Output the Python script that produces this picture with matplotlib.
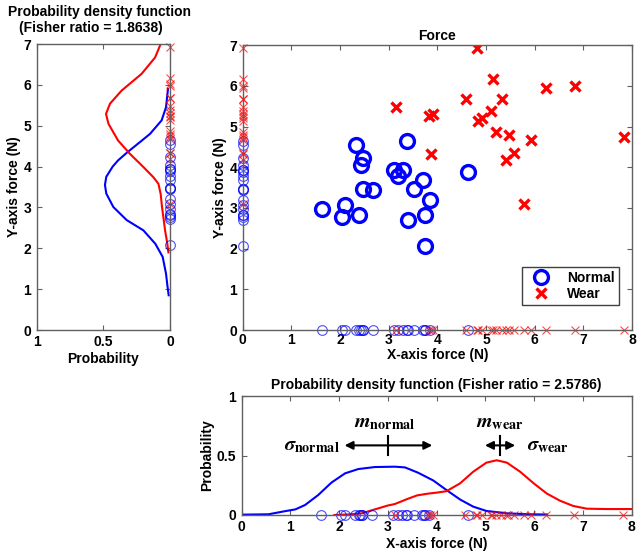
import numpy as np
import matplotlib
matplotlib.use("Agg")
import matplotlib.pyplot as plt

plt.rcParams['font.family'] = ['Liberation Sans', 'DejaVu Sans']
plt.rcParams['font.weight'] = 'bold'
plt.rcParams['axes.labelweight'] = 'bold'
plt.rcParams['axes.titleweight'] = 'bold'
plt.rcParams['font.size'] = 10

FS = 10

# ---- force measurements (N) ----
normal_x = [1.63, 2.04, 2.11, 2.33, 2.47, 2.43, 2.40, 2.47, 2.67, 3.10,
            3.20, 3.29, 3.37, 3.40, 3.53, 3.70, 3.74, 3.85, 3.75, 4.64]
normal_y = [2.97, 2.77, 3.08, 4.56, 4.23, 4.05, 2.82, 3.47, 3.44, 3.93,
            3.78, 3.93, 4.64, 2.71, 3.47, 3.68, 2.83, 3.20, 2.07, 3.89]
wear_x = [3.15, 3.82, 3.92, 3.87, 4.59, 4.81, 4.83, 4.92, 5.11, 5.14,
          5.21, 5.32, 5.42, 5.47, 5.58, 5.79, 5.93, 6.24, 6.82, 7.83]
wear_y = [5.49, 5.25, 5.30, 4.33, 5.69, 6.93, 5.14, 5.22, 5.38, 6.16,
          4.87, 5.67, 4.19, 4.79, 4.34, 3.09, 4.68, 5.96, 6.01, 4.75]

# ---- estimated densities along the Y axis ----
pdfy_normal_y = [0.85, 1.1, 1.38, 1.79, 2.11, 2.44, 2.69, 3.01, 3.34, 3.55,
                 3.75, 4.0, 4.15, 4.35, 4.64, 4.80, 5.13, 5.45, 5.9]
pdfy_normal_p = [0.01, 0.02, 0.03, 0.055, 0.11, 0.20, 0.325, 0.425, 0.478, 0.488,
                 0.478, 0.43, 0.39, 0.32, 0.21, 0.15, 0.063, 0.03, 0.015]
pdfy_wear_y = [1.9, 2.11, 2.44, 2.77, 3.01, 3.33, 3.58, 3.74, 3.99, 4.31,
               4.64, 5.05, 5.29, 5.54, 5.86, 6.27, 6.67, 7.0]
pdfy_wear_p = [0.012, 0.02, 0.037, 0.05, 0.06, 0.07, 0.087, 0.125, 0.20, 0.30,
               0.39, 0.462, 0.48, 0.45, 0.363, 0.213, 0.112, 0.07]

# ---- estimated densities along the X axis ----
pdfx_normal_x = [0, 0.55, 0.9, 1.1, 1.3, 1.57, 1.84, 2.12, 2.39, 2.73, 3.14,
                 3.35, 3.62, 3.93, 4.2, 4.48, 4.75, 5.02, 5.44, 5.9, 6.26]
pdfx_normal_p = [0.003, 0.006, 0.033, 0.047, 0.084, 0.168, 0.272, 0.35, 0.386, 0.403, 0.406,
                 0.40, 0.355, 0.29, 0.21, 0.13, 0.07, 0.034, 0.014, 0.006, 0.004]
pdfx_wear_x = [1.9, 2.2, 2.46, 2.73, 3.0, 3.14, 3.4, 3.6, 3.83, 4.0, 4.2, 4.48,
               4.75, 5.02, 5.23, 5.44, 5.71, 5.99, 6.26, 6.53, 6.8, 7.08, 7.49, 8.0]
pdfx_wear_p = [0.0, 0.005, 0.014, 0.047, 0.08, 0.092, 0.135, 0.165, 0.18, 0.188, 0.2, 0.266,
               0.364, 0.44, 0.46, 0.44, 0.364, 0.266, 0.18, 0.12, 0.076, 0.053, 0.05, 0.05]

# mean / spread markers on the X-axis density panel
ann_mean = [3.01, 5.30]
ann_half = [0.90, 0.31]

fisher_x = 2.5786
fisher_y = 1.8638

BLUE = (0, 0, 1)
RED = (1, 0, 0)
SPINE = '#606060'

W, H = 637, 557
fig = plt.figure(figsize=(W / 100, H / 100), dpi=100)


def frac(l, t, r, b):
    return [l / W, 1 - b / H, (r - l) / W, (b - t) / H]


def style(ax, xpad=3.5):
    for s in ax.spines.values():
        s.set_color(SPINE)
        s.set_linewidth(1.0)
    ax.tick_params(direction='in', top=True, right=True, length=3.5,
                   width=0.8, color=SPINE, labelsize=FS)
    ax.tick_params(axis='x', pad=xpad)
    ax.tick_params(axis='y', pad=4)
    for lab in ax.get_xticklabels() + ax.get_yticklabels():
        lab.set_fontweight('bold')


ax_main = fig.add_axes(frac(242.7, 45.3, 632, 330))
ax_left = fig.add_axes(frac(36.7, 44.0, 170, 330))
ax_bot = fig.add_axes(frac(241.7, 396, 631.7, 515))

proj_o = dict(ls='none', marker='o', mfc='none', mec=BLUE, ms=7, mew=0.8,
              alpha=0.7, clip_on=False)
proj_x = dict(ls='none', marker='x', color=RED, ms=6, mew=0.8,
              alpha=0.7, clip_on=False)

# ---- main scatter ----
ax_main.plot(normal_x, np.zeros(len(normal_x)), **proj_o)
ax_main.plot(wear_x, np.zeros(len(wear_x)), **proj_x)
ax_main.plot(np.zeros(len(normal_y)), normal_y, **proj_o)
ax_main.plot(np.zeros(len(wear_y)), wear_y, **proj_x)
h1, = ax_main.plot(normal_x, normal_y, ls='none', marker='o', mfc='none',
                   mec=BLUE, ms=10, mew=2.4, label='Normal')
h2, = ax_main.plot(wear_x, wear_y, ls='none', marker='x', color=RED,
                   ms=7.5, mew=2.4, label='Wear')
ax_main.set_xlim(0, 8)
ax_main.set_ylim(0, 7)
ax_main.set_xticks(range(0, 9))
ax_main.set_yticks(range(0, 8))
ax_main.set_title('Force', fontsize=FS, fontweight='bold', pad=4)
ax_main.set_xlabel('X-axis force (N)', labelpad=0.5)
ax_main.set_ylabel('Y-axis force (N)', labelpad=2)
leg = ax_main.legend(handles=[h1, h2], loc='lower right',
                     bbox_to_anchor=(0.967, 0.088), borderaxespad=0,
                     fancybox=False, edgecolor='#404040', framealpha=1,
                     prop={'weight': 'bold', 'size': FS}, handlelength=2.2,
                     borderpad=0.3, labelspacing=0.15, handletextpad=0.8)
leg.get_frame().set_linewidth(1.0)
style(ax_main, xpad=2.5)

# ---- Y-axis density ----
ax_left.plot(pdfy_normal_p, pdfy_normal_y, color=BLUE, lw=1.5)
ax_left.plot(pdfy_wear_p, pdfy_wear_y, color=RED, lw=1.5)
ax_left.plot(np.zeros(len(normal_y)), normal_y, **proj_o)
ax_left.plot(np.zeros(len(wear_y)), wear_y, **proj_x)
ax_left.set_xlim(1, 0)
ax_left.set_ylim(0, 7)
ax_left.set_xticks([1, 0.5, 0])
ax_left.set_xticklabels(['1', '0.5', '0'])
ax_left.set_yticks(range(0, 8))
ax_left.set_xlabel('Probability', labelpad=2)
ax_left.set_ylabel('Y-axis force (N)', labelpad=2)
style(ax_left)
fig.text(100 / W, 1 - 12 / H, 'Probability density function',
         ha='center', va='center', fontsize=FS, fontweight='bold')
fig.text(90.5 / W, 1 - 28 / H, '(Fisher ratio = %.4f)' % fisher_y,
         ha='center', va='center', fontsize=FS, fontweight='bold')

# ---- X-axis density ----
ax_bot.plot(pdfx_normal_x, pdfx_normal_p, color=BLUE, lw=1.5)
ax_bot.plot(pdfx_wear_x, pdfx_wear_p, color=RED, lw=1.5)
ax_bot.plot(normal_x, np.zeros(len(normal_x)), **proj_o)
ax_bot.plot(wear_x, np.zeros(len(wear_x)), **proj_x)
ax_bot.set_xlim(0, 8)
ax_bot.set_ylim(0, 1)
ax_bot.set_xticks(range(0, 9))
ax_bot.set_yticks([0, 0.5, 1])
ax_bot.set_yticklabels(['0', '0.5', '1'])
ax_bot.set_title('Probability density function (Fisher ratio = %.4f)' % fisher_x,
                 fontsize=FS, fontweight='bold', pad=5)
ax_bot.set_xlabel('X-axis force (N)', labelpad=2)
ax_bot.set_ylabel('Probability', labelpad=2)
style(ax_bot)

arrow_y = 0.585
for m, h in zip(ann_mean, ann_half):
    ax_bot.annotate('', xy=(m - h, arrow_y), xytext=(m + h, arrow_y),
                    arrowprops=dict(arrowstyle='<|-|>', color='k', lw=1.5,
                                    mutation_scale=12, shrinkA=0, shrinkB=0))
    ax_bot.plot([m, m], [arrow_y - 0.08, arrow_y + 0.075], color='k', lw=1.5)

mt = dict(math_fontfamily='stix', fontsize=14.5, color='k', fontweight='normal')
ax_bot.text(ann_mean[0] - 0.07, 0.78, r'$m_{\mathrm{normal}}$', ha='center', va='center', **mt)
ax_bot.text(ann_mean[0] - ann_half[0] - 0.09, arrow_y, r'$\sigma_{\mathrm{normal}}$',
            ha='right', va='center', **mt)
ax_bot.text(ann_mean[1], 0.78, r'$m_{\mathrm{wear}}$', ha='center', va='center', **mt)
ax_bot.text(ann_mean[1] + ann_half[1] + 0.25, arrow_y, r'$\sigma_{\mathrm{wear}}$',
            ha='left', va='center', **mt)

fig.savefig('out.png', dpi=100)
